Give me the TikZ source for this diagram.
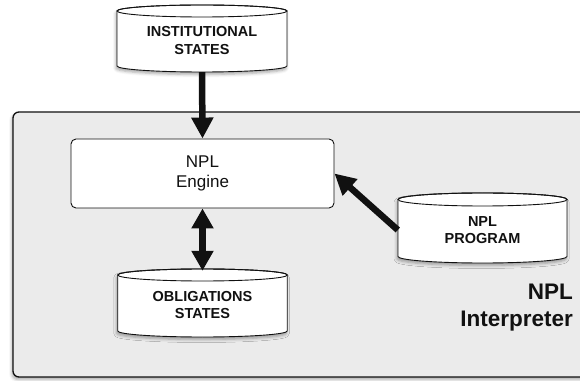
\documentclass[tikz,border=0pt]{standalone}
\usepackage{fontspec}
\setmainfont{Liberation Sans}
\usetikzlibrary{arrows.meta,shadows.blur}

\definecolor{panelgray}{HTML}{EBEBEB}
\definecolor{ink}{HTML}{111111}

\tikzset{
  softshadow/.style={blur shadow={shadow xshift=-1pt, shadow yshift=-2.5pt,
      shadow blur radius=3pt, shadow opacity=35}},
  panel/.style={draw=ink, line width=1.3pt, fill=panelgray, rounded corners=6pt,
      inner sep=0pt, softshadow},
  enginebox/.style={draw=ink, line width=0.9pt, fill=white, rounded corners=5pt,
      inner sep=0pt, align=center, font=\fontsize{17}{20.7}\selectfont, text=ink},
  drumbody/.style={draw=ink, line width=0.9pt, fill=white, softshadow},
  drumline/.style={draw=ink, line width=0.9pt},
  drumtext/.style={inner sep=0pt, align=center, text=ink,
      font=\bfseries\fontsize{14.5}{17.3}\selectfont},
  bigarrow/.style={draw=ink, line width=6.5pt,
      -{Triangle[length=21pt 0 0, width=21pt 0 0]}},
  twoway/.style={draw=ink, line width=6.5pt,
      {Triangle[length=20pt 0 0, width=21pt 0 0]}-{Triangle[length=20pt 0 0, width=21pt 0 0]}},
  titletext/.style={inner sep=0pt, align=right, text=ink,
      font=\bfseries\fontsize{22.5}{27}\selectfont},
}

% storage drum: name, centre x, centre y, width, height, end radius, text
\newcommand\drum[7]{%
  \pgfmathsetmacro\drumrx{#4/2}%
  \path[drumbody] (#2-\drumrx, #3+#5/2-#6) -- (#2-\drumrx, #3-#5/2+#6)
    arc[start angle=180, end angle=360, x radius=\drumrx, y radius=#6]
    -- (#2+\drumrx, #3+#5/2-#6)
    arc[start angle=0, end angle=180, x radius=\drumrx, y radius=#6] -- cycle;
  \draw[drumline] (#2, #3+#5/2-#6) ellipse[x radius=\drumrx, y radius=#6];
  \node[drumtext, minimum width=#4pt, minimum height=#5pt] (#1) at (#2,#3-2) {#7};
}

\begin{document}
\begin{tikzpicture}[x=1pt, y=1pt]
  \useasboundingbox (0,0) rectangle (580,380);

  % interpreter panel (runs past the right edge of the page)
  \node[panel, minimum width=580pt, minimum height=265pt] (frame) at (303,135.5) {};
  \node[titletext, anchor=base east] (title) at (573,54) {NPL\\Interpreter};

  % engine
  \node[enginebox, minimum width=263pt, minimum height=69pt] (engine) at (202.5,206.5) {NPL\\Engine};

  % stores
  \drum{inst}{202}{341.5}{170}{67}{6}{INSTITUTIONAL\\STATES}
  \drum{oblig}{202.5}{77}{169.5}{68}{6}{OBLIGATIONS\\STATES}
  \drum{prog}{482.5}{152}{169}{70}{6.5}{NPL\\PROGRAM}

  % connectors
  \draw[bigarrow] (inst.south) ++(0,2) -- (engine.north);
  \draw[twoway] (engine.south) -- (oblig.north);
  \draw[bigarrow] (prog.west) -- (engine.east);
\end{tikzpicture}
\end{document}
